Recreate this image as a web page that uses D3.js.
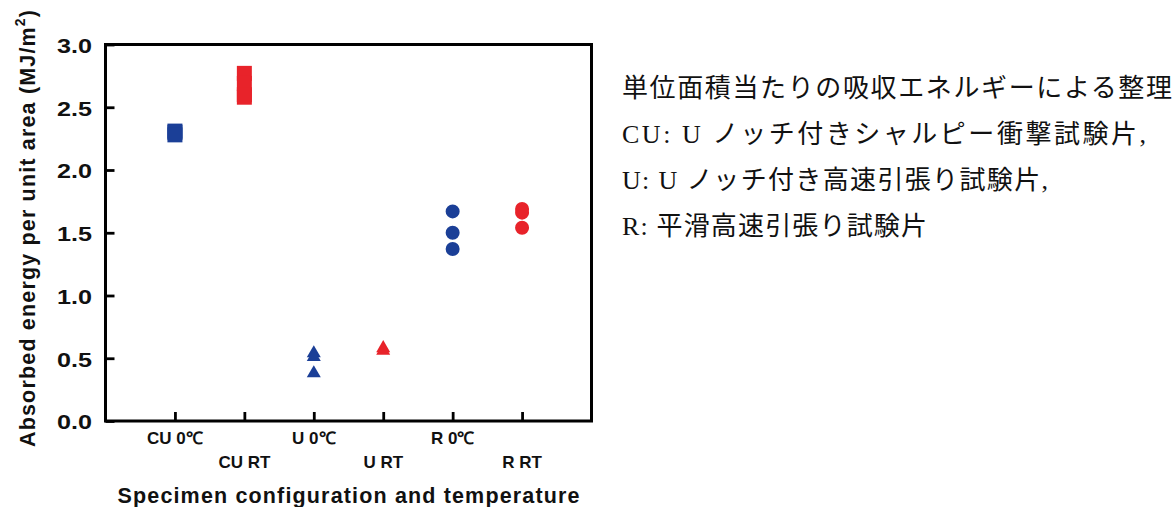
<!DOCTYPE html>
<html>
<head>
<meta charset="utf-8">
<script src="https://cdn.jsdelivr.net/npm/d3@7"></script>
<style>
  html, body { margin: 0; padding: 0; background: #fff; }
  svg { display: block; }
</style>
</head>
<body>
<svg id="chart" width="1174" height="507"></svg>
<script>
// ---- data ----
const categories = ["CU 0℃", "CU RT", "U 0℃", "U RT", "R 0℃", "R RT"];
const yTicks = [0, 0.5, 1.0, 1.5, 2.0, 2.5, 3.0];
const cu0 = [2.31, 2.30, 2.28];
const cuRT = [2.77, 2.69, 2.60, 2.58];
const u0 = [0.54, 0.51, 0.38];
const uRT = [0.58, 0.56];
const r0 = [1.67, 1.50, 1.37];
const rRT = [1.69, 1.66, 1.54];
const seriesValues = [cu0, cuRT, u0, uRT, r0, rRT];
const seriesShapes = ["square", "square", "triangle", "triangle", "circle", "circle"];
const seriesTemps = ["0", "RT", "0", "RT", "0", "RT"];
const notes = [
  "単位面積当たりの吸収エネルギーによる整理",
  "CU: U ノッチ付きシャルピー衝撃試験片,",
  "U: U ノッチ付き高速引張り試験片,",
  "R:  平滑高速引張り試験片"
];
const yTitle = "Absorbed energy per unit area (MJ/m";
const xTitle = "Specimen configuration and temperature";

// ---- layout ----
const L = 105.5, R = 591.5, T = 44.5, B = 421;
const colorOf = { "0": "#1b3f97", "RT": "#e8232a" };
const symOf = { square: d3.symbolSquare, triangle: d3.symbolTriangle, circle: d3.symbolCircle };
const sizeOf = { square: 225, triangle: 85, circle: 154 };
const sansBold = "'Liberation Sans', Arial, Helvetica, sans-serif";

const svg = d3.select("#chart");
const x = d3.scalePoint().domain(categories).range([L, R]).padding(1);
const y = d3.scaleLinear().domain([0, 3]).range([B, T]);

// points
const pts = [];
categories.forEach((c, i) => seriesValues[i].forEach(v => pts.push({ c, v, shape: seriesShapes[i], t: seriesTemps[i] })));
svg.append("g").selectAll("path").data(pts).join("path")
  .attr("d", d => d3.symbol(symOf[d.shape], sizeOf[d.shape])())
  .attr("transform", d => `translate(${x(d.c)},${y(d.v)})`)
  .attr("fill", d => colorOf[d.t]);

// y axis
const yAxis = svg.append("g").attr("transform", `translate(${L},0)`)
  .call(d3.axisLeft(y).tickValues(yTicks).tickFormat(d3.format(".1f")).tickSizeInner(-9).tickSizeOuter(0).tickPadding(13.5));
yAxis.select(".domain").remove();
yAxis.selectAll(".tick line").attr("stroke", "#000").attr("stroke-width", 2.8);
yAxis.selectAll(".tick text")
  .attr("font-family", sansBold)
  .attr("font-weight", "bold").attr("font-size", 21).attr("fill", "#111")
  .attr("dy", "0.37em")
  .attr("textLength", 35).attr("lengthAdjust", "spacingAndGlyphs");

// x axis
const xAxis = svg.append("g").attr("transform", `translate(0,${B})`)
  .call(d3.axisBottom(x).tickSizeInner(-9).tickSizeOuter(0).tickFormat(""));
xAxis.select(".domain").remove();
xAxis.selectAll(".tick line").attr("stroke", "#000").attr("stroke-width", 2.8);
xAxis.selectAll(".tick text").remove();

svg.append("g").selectAll("text").data(categories).join("text")
  .attr("x", d => x(d))
  .attr("y", (d, i) => i % 2 === 0 ? 443.5 : 467.5)
  .attr("text-anchor", "middle")
  .attr("font-family", sansBold)
  .attr("font-weight", "bold").attr("font-size", 17).attr("fill", "#111")
  .text(d => d);

// frame
svg.append("rect").attr("x", L).attr("y", T).attr("width", R - L).attr("height", B - T)
  .attr("fill", "none").attr("stroke", "#000").attr("stroke-width", 3);

// axis titles
svg.append("text")
  .attr("x", (L + R) / 2).attr("y", 503)
  .attr("text-anchor", "middle")
  .attr("font-family", sansBold)
  .attr("font-weight", "bold").attr("font-size", 21.5).attr("fill", "#111")
  .attr("textLength", 462).attr("lengthAdjust", "spacing")
  .text(xTitle);

const yt = svg.append("text")
  .attr("transform", "translate(35,228.5) rotate(-90)")
  .attr("text-anchor", "middle")
  .attr("font-family", sansBold)
  .attr("font-weight", "bold").attr("font-size", 21.5).attr("fill", "#111")
  .attr("textLength", 437).attr("lengthAdjust", "spacing");
yt.append("tspan").text(yTitle);
yt.append("tspan").attr("font-size", 14).attr("dy", -10).text("2");
yt.append("tspan").attr("dy", 10).text(")");

// notes
const noteEnds = [1172, 1146, 1048, 927];
svg.append("g").selectAll("text").data(notes).join("text")
  .attr("x", 622)
  .attr("y", (d, i) => 97 + i * 46)
  .attr("font-family", "'Liberation Serif', 'Noto Sans CJK JP', serif")
  .attr("font-size", 26).attr("fill", "#111")
  .attr("textLength", (d, i) => noteEnds[i] - 622).attr("lengthAdjust", "spacing")
  .text(d => d);
</script>
</body>
</html>
